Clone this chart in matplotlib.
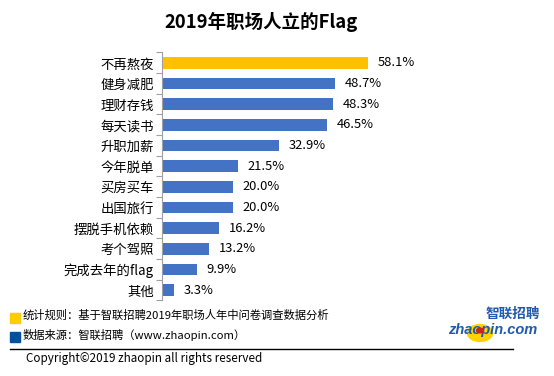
import matplotlib
matplotlib.use("Agg")
import matplotlib.pyplot as plt
from matplotlib.patches import Rectangle, Circle
import numpy as np

plt.rcParams['font.family'] = ['Noto Sans CJK SC', 'DejaVu Sans']

categories = ["不再熬夜", "健身减肥", "理财存钱", "每天读书", "升职加薪", "今年脱单",
              "买房买车", "出国旅行", "摆脱手机依赖", "考个驾照", "完成去年的flag", "其他"]
values = [58.1, 48.7, 48.3, 46.5, 32.9, 21.5, 20.0, 20.0, 16.2, 13.2, 9.9, 3.3]
highlight = "不再熬夜"

W, H = 554, 376
fig = plt.figure(figsize=(W / 100, H / 100), dpi=100)

def fx(x):
    return x / W

def fy(y):
    return 1 - y / H

ax = fig.add_axes([fx(162), fy(300.5), fx(410 - 162), (300.5 - 52.5) / H])
pos = np.arange(len(categories))
colors = ["#FFC000" if c == highlight else "#4472C4" for c in categories]
bars = ax.barh(pos, values, height=0.58, color=colors)
ax.set_xlim(0, 70)
ax.set_ylim(len(categories) - 0.5, -0.5)
for b, v in zip(bars, values):
    ax.annotate(f"{v:.1f}%", (b.get_width(), b.get_y() + b.get_height() / 2),
                xytext=(7, 0), textcoords="offset points", va="center", ha="left",
                fontsize=9.3, color="#000000")
ax.set_yticks(pos)
ax.set_yticklabels(categories, fontsize=9.6)
ax.set_yticks(np.arange(-0.5, len(categories) + 0.5, 1), minor=True)
ax.tick_params(axis='y', which='major', length=0, pad=6)
ax.tick_params(axis='y', which='minor', length=4, color="#A0A0A0", width=0.8)
ax.set_xticks([])
for s in ["top", "right", "bottom"]:
    ax.spines[s].set_visible(False)
ax.spines["left"].set_color("#A0A0A0")
ax.spines["left"].set_linewidth(0.8)

fig.text(fx(261), fy(22), "2019年职场人立的Flag", ha="center", va="center",
         fontsize=13.3, fontweight="bold")

# footer
fig.patches.append(Rectangle((fx(10), fy(323)), fx(10), 10.5 / H, transform=fig.transFigure,
                             color="#FFCC00"))
fig.patches.append(Rectangle((fx(10), fy(342)), fx(10), 10.5 / H, transform=fig.transFigure,
                             color="#0050A0"))
fig.text(fx(23), fy(315), "统计规则：基于智联招聘2019年职场人年中问卷调查数据分析",
         ha="left", va="center", fontsize=8.15)
fig.text(fx(23), fy(335), "数据来源：智联招聘（www.zhaopin.com）",
         ha="left", va="center", fontsize=8.15)
fig.add_artist(plt.Line2D([fx(10), fx(513)], [fy(348.5), fy(348.5)], color="black",
                          linewidth=1, transform=fig.transFigure))
fig.text(fx(26), fy(358.5), "Copyright©2019 zhaopin all rights reserved",
         ha="left", va="center", fontsize=8.4)

# logo
fig.patches.append(Circle((fx(480), fy(333)), 12.5 / W, transform=fig.transFigure,
                          color="#FFD200", zorder=1))
fig.text(fx(513), fy(314), "智联招聘", ha="center", va="center", fontsize=9.8,
         fontweight="bold", color="#1F5AAE", style="italic", zorder=3)
fig.text(fx(493), fy(330), "zhaopin.com", ha="center", va="center", fontsize=10.5,
         fontweight="bold", color="#1F5AAE", style="italic",
         family=["Liberation Sans"], zorder=3)
fig.patches.append(Circle((fx(480), fy(330.5)), 3.5 / W, transform=fig.transFigure,
                          color="#D42020", zorder=4))

fig.savefig("out.png", dpi=100)
